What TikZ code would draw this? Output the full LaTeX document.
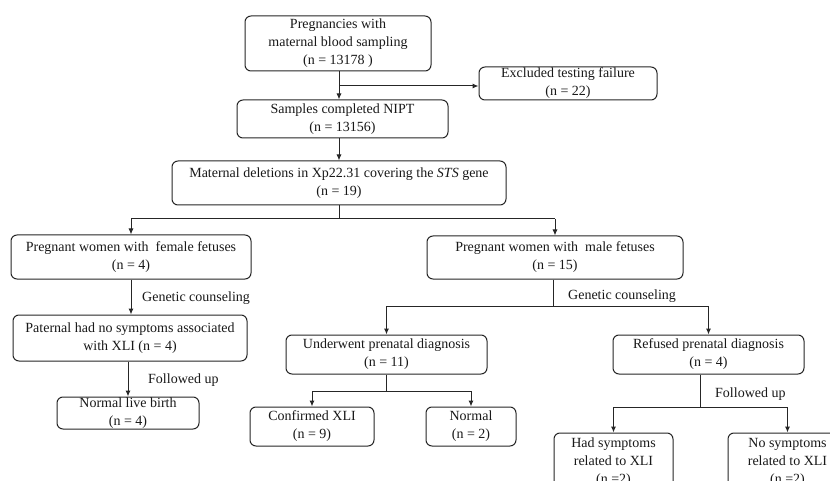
\documentclass[tikz,border=0pt]{standalone}
\usepackage{fontspec}
\setmainfont{Liberation Serif}
\usetikzlibrary{arrows.meta}
\tikzset{
  box/.style={draw=black!85, line width=1pt, rounded corners=6pt, align=center, inner sep=0pt,
    font=\fontsize{14}{18}\selectfont, text=black!90},
  lbl/.style={anchor=west, inner sep=0pt, font=\fontsize{14}{18}\selectfont, text=black!90},
  ln/.style={draw=black!85, line width=1pt},
  arr/.style={ln, -{Latex[length=6pt,width=5pt]}}
}
\begin{document}
\begin{tikzpicture}[x=1pt,y=-1pt]
\useasboundingbox (0,0) rectangle (830,481);
\clip (0,0) rectangle (830,481);
\fill[white] (0,0) rectangle (830,481);
% nodes
\node[box, minimum width=186pt, minimum height=55pt] (p1) at (338,43.5) {Pregnancies with\\maternal blood sampling\\(n = 13178 )};
\node[box, minimum width=178pt, minimum height=33pt] (ex) at (568,83.5) {Excluded testing failure\\(n = 22)};
\node[box, minimum width=211pt, minimum height=38pt] (p2) at (342.5,119) {Samples completed NIPT\\(n = 13156)};
\node[box, minimum width=334pt, minimum height=44pt] (p3) at (339,183) {Maternal deletions in Xp22.31 covering the \textit{STS} gene\\(n = 19)};
\node[box, minimum width=240pt, minimum height=44pt] (fe) at (131,257) {Pregnant women with\ \ female fetuses\\(n = 4)};
\node[box, minimum width=256pt, minimum height=43pt] (ma) at (555,257.5) {Pregnant women with\ \ male fetuses\\(n = 15)};
\node[box, minimum width=234pt, minimum height=46pt] (pa) at (130,338) {Paternal had no symptoms associated\\with XLI (n = 4)};
\node[box, minimum width=142pt, minimum height=32pt] (nb) at (128,413) {Normal live birth\\(n = 4)};
\node[box, minimum width=201pt, minimum height=39pt] (un) at (386.5,354.5) {Underwent prenatal diagnosis\\(n = 11)};
\node[box, minimum width=191pt, minimum height=39pt] (re) at (708.5,354.5) {Refused prenatal diagnosis\\(n = 4)};
\node[box, minimum width=124pt, minimum height=39pt] (cx) at (312,426.5) {Confirmed XLI\\(n = 9)};
\node[box, minimum width=90pt, minimum height=39pt] (no) at (471,426.5) {Normal\\(n = 2)};
\node[box, minimum width=119pt, minimum height=58pt] (hs) at (613.5,462) {Had symptoms\\related to XLI\\(n =2)};
\node[box, minimum width=119pt, minimum height=58pt] (ns) at (787.5,462) {No symptoms\\related to XLI\\(n =2)};
% labels
\node[lbl] (l1) at (142,298) {Genetic counseling};
\node[lbl] (l2) at (148,380) {Followed up};
\node[lbl] (l3) at (568,296) {Genetic counseling};
\node[lbl] (l4) at (715,394) {Followed up};
% coordinates
\coordinate (j1) at (339,86);
\coordinate (j2) at (339,219);
\coordinate (j3) at (553,306);
\coordinate (j4) at (386,391);
\coordinate (j5) at (700,407);
% connectors
\draw[arr] (j1 |- p1.south) -- (j1 |- p2.north);
\draw[arr] (j1) -- (j1 -| ex.west);
\draw[arr] (j1 |- p2.south) -- (j1 |- p3.north);
\draw[ln] (j2 |- p3.south) -- (j2);
\draw[ln] (fe.north |- j2) -- (ma.north |- j2);
\draw[arr] (fe.north |- j2) -- (fe.north);
\draw[arr] (ma.north |- j2) -- (ma.north);
\draw[arr] (fe.south) -- (fe.south |- pa.north);
\draw[arr] (nb.north |- pa.south) -- (nb.north);
\draw[ln] (j3 |- ma.south) -- (j3);
\draw[ln] (un.north |- j3) -- (re.north |- j3);
\draw[arr] (un.north |- j3) -- (un.north);
\draw[arr] (re.north |- j3) -- (re.north);
\draw[ln] (j4 |- un.south) -- (j4);
\draw[ln] (cx.north |- j4) -- (no.north |- j4);
\draw[arr] (cx.north |- j4) -- (cx.north);
\draw[arr] (no.north |- j4) -- (no.north);
\draw[ln] (j5 |- re.south) -- (j5);
\draw[ln] (hs.north |- j5) -- (ns.north |- j5);
\draw[arr] (hs.north |- j5) -- (hs.north);
\draw[arr] (ns.north |- j5) -- (ns.north);
\end{tikzpicture}
\end{document}
